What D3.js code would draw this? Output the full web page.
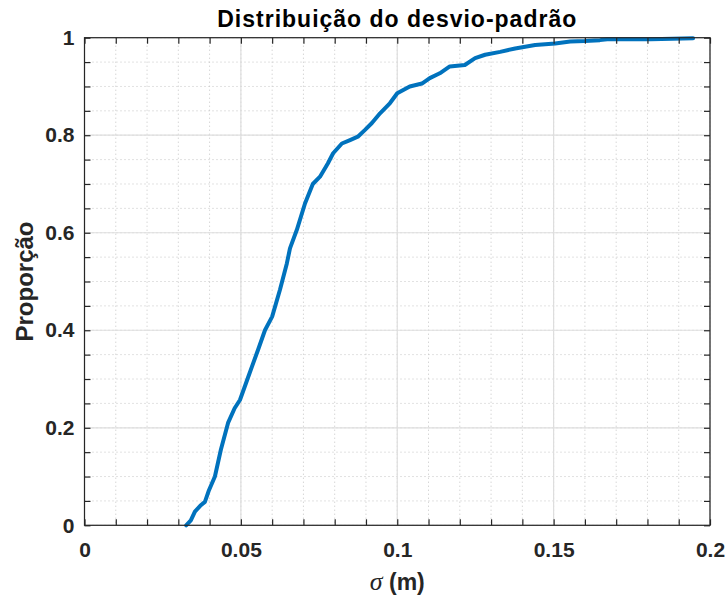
<!DOCTYPE html>
<html>
<head>
<meta charset="utf-8">
<script src="https://cdn.jsdelivr.net/npm/d3@7"></script>
<style>
  body { margin: 0; background: #fff; }
  text { font-family: "Liberation Sans", Arial, sans-serif; }
</style>
</head>
<body>
<svg id="chart" width="727" height="596"></svg>
<script>
var sigma = [0.0325, 0.0340, 0.0353, 0.0370, 0.0385, 0.0398, 0.0417, 0.0436, 0.0459, 0.0480,
  0.0497, 0.0510, 0.0520, 0.0538, 0.0555, 0.0577, 0.0600, 0.0625, 0.0647, 0.0657,
  0.0679, 0.0705, 0.0730, 0.0753, 0.0778, 0.0795, 0.0823, 0.0849, 0.0874, 0.0897,
  0.0919, 0.0945, 0.0977, 0.1000, 0.1040, 0.1079, 0.1104, 0.1136, 0.1168, 0.1216,
  0.1249, 0.1281, 0.1329, 0.1377, 0.1441, 0.1505, 0.1553, 0.1600, 0.1648, 0.1671,
  0.1750, 0.1810, 0.1880, 0.1946];
var proportion = [0.000, 0.010, 0.028, 0.040, 0.048, 0.072, 0.100, 0.155, 0.210, 0.240,
  0.257, 0.280, 0.298, 0.330, 0.360, 0.400, 0.428, 0.483, 0.537, 0.568,
  0.606, 0.660, 0.700, 0.715, 0.742, 0.763, 0.783, 0.790, 0.797, 0.811,
  0.825, 0.845, 0.866, 0.886, 0.900, 0.906, 0.917, 0.927, 0.941, 0.944,
  0.958, 0.965, 0.971, 0.978, 0.985, 0.988, 0.992, 0.993, 0.995, 0.997,
  0.997, 0.997, 0.998, 0.999];

var xTicks = [0, 0.05, 0.1, 0.15, 0.2];
var xTickLabels = ["0", "0.05", "0.1", "0.15", "0.2"];
var yTicks = [0, 0.2, 0.4, 0.6, 0.8, 1];
var yTickLabels = ["0", "0.2", "0.4", "0.6", "0.8", "1"];
var xMinor = d3.range(0, 0.2001, 0.01);
var yMinor = d3.range(0, 1.0001, 0.05);

var titleText = "Distribuição do desvio-padrão";
var yLabel = "Proporção";

var svg = d3.select("#chart");
var mLeft = 84.5, mRight = 710, mTop = 37.7, mBottom = 525.3;

var x = d3.scaleLinear().domain([0, 0.2]).range([mLeft, mRight]);
var y = d3.scaleLinear().domain([0, 1]).range([mBottom, mTop]);

// minor grid (dotted)
var grid = svg.append("g");
grid.selectAll(".mx").data(xMinor).enter().append("line")
  .attr("x1", d => x(d)).attr("x2", d => x(d))
  .attr("y1", mTop).attr("y2", mBottom)
  .attr("stroke", "#c4c4c4").attr("stroke-width", 1)
  .attr("stroke-dasharray", "1,3");
grid.selectAll(".my").data(yMinor).enter().append("line")
  .attr("y1", d => y(d)).attr("y2", d => y(d))
  .attr("x1", mLeft).attr("x2", mRight)
  .attr("stroke", "#c4c4c4").attr("stroke-width", 1)
  .attr("stroke-dasharray", "1,3");

// major grid (solid)
grid.selectAll(".gx").data(xTicks).enter().append("line")
  .attr("x1", d => x(d)).attr("x2", d => x(d))
  .attr("y1", mTop).attr("y2", mBottom)
  .attr("stroke", "#dedede").attr("stroke-width", 1.2);
grid.selectAll(".gy").data(yTicks).enter().append("line")
  .attr("y1", d => y(d)).attr("y2", d => y(d))
  .attr("x1", mLeft).attr("x2", mRight)
  .attr("stroke", "#dedede").attr("stroke-width", 1.2);

// the curve
var pts = sigma.map((s, i) => [s, proportion[i]]);
svg.append("path")
  .datum(pts)
  .attr("fill", "none")
  .attr("stroke", "#0072BD")
  .attr("stroke-width", 4)
  .attr("stroke-linejoin", "round")
  .attr("stroke-linecap", "round")
  .attr("d", d3.line().x(d => x(d[0])).y(d => y(d[1])));

// axes with inward ticks, box on all four sides
var tickCol = "#262626";
function styleAxis(g) {
  g.select(".domain").remove();
  g.selectAll("line").attr("stroke", tickCol).attr("stroke-width", 1.2);
  g.selectAll("text").attr("fill", tickCol)
    .style("font-size", "21px").style("font-weight", "bold");
}

svg.append("g").attr("transform", "translate(0," + mBottom + ")")
  .call(d3.axisBottom(x).tickValues(xMinor).tickSize(-6).tickFormat(""))
  .call(styleAxis);
svg.append("g").attr("transform", "translate(0," + mTop + ")")
  .call(d3.axisTop(x).tickValues(xMinor).tickSize(-6).tickFormat(""))
  .call(styleAxis);
svg.append("g").attr("transform", "translate(" + mLeft + ",0)")
  .call(d3.axisLeft(y).tickValues(yMinor).tickSize(-6).tickFormat(""))
  .call(styleAxis);
svg.append("g").attr("transform", "translate(" + mRight + ",0)")
  .call(d3.axisRight(y).tickValues(yMinor).tickSize(-6).tickFormat(""))
  .call(styleAxis);

// tick labels
svg.append("g").attr("transform", "translate(0," + mBottom + ")")
  .call(d3.axisBottom(x).tickValues(xTicks).tickSize(0).tickPadding(17)
    .tickFormat((d, i) => xTickLabels[i]))
  .call(styleAxis);
svg.append("g").attr("transform", "translate(" + mLeft + ",0)")
  .call(d3.axisLeft(y).tickValues(yTicks).tickSize(0).tickPadding(10)
    .tickFormat((d, i) => yTickLabels[i]))
  .call(styleAxis);

svg.append("rect")
  .attr("x", mLeft).attr("y", mTop)
  .attr("width", mRight - mLeft).attr("height", mBottom - mTop)
  .attr("fill", "none").attr("stroke", tickCol).attr("stroke-width", 1.2);

// title and labels
svg.append("text")
  .attr("x", (mLeft + mRight) / 2).attr("y", 27)
  .attr("text-anchor", "middle")
  .style("font-size", "23px").style("font-weight", "bold")
  .style("letter-spacing", "1px")
  .attr("fill", "#000")
  .text(titleText);

var xl = svg.append("text")
  .attr("x", (mLeft + mRight) / 2).attr("y", 590)
  .attr("text-anchor", "middle")
  .attr("fill", tickCol)
  .style("font-size", "23px");
xl.append("tspan").style("font-family", "'Liberation Serif', serif")
  .style("font-style", "italic").style("font-size", "26px").text("σ");
xl.append("tspan").style("font-weight", "bold").text(" (m)");

svg.append("text")
  .attr("transform", "translate(33," + ((mTop + mBottom) / 2) + ") rotate(-90)")
  .attr("text-anchor", "middle")
  .attr("fill", tickCol)
  .style("font-size", "24px").style("font-weight", "bold")
  .text(yLabel);
</script>
</body>
</html>
